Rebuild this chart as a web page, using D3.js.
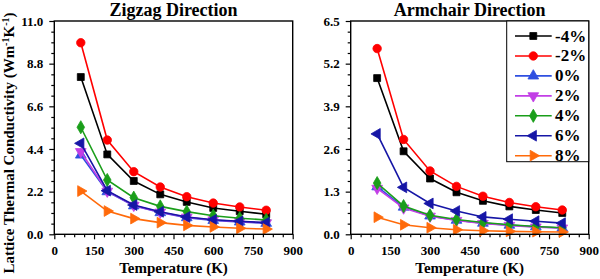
<!DOCTYPE html>
<html>
<head>
<meta charset="utf-8">
<script src="https://cdn.jsdelivr.net/npm/d3@7"></script>
<style>
  body { margin: 0; background: #fff; }
  svg text { font-family: "Liberation Serif", "Times New Roman", Times, serif; font-weight: bold; fill: #000; }
</style>
</head>
<body>
<svg id="chart" width="600" height="279" font-family="Liberation Serif" font-weight="bold"></svg>
<script>
// temperatures (K)
const temps = [100, 200, 300, 400, 500, 600, 700, 800]
const strains = ['-4%', '-2%', '0%', '2%', '4%', '6%', '8%']

// zigzag direction, lattice thermal conductivity
const zzM4 = [8.11, 4.12, 2.75, 2.06, 1.67, 1.36, 1.19, 1.03]
const zzM2 = [9.88, 4.86, 3.23, 2.44, 1.94, 1.61, 1.41, 1.24]
const zz0 = [4.09, 2.20, 1.47, 1.12, 0.86, 0.72, 0.64, 0.57]
const zz2 = [4.26, 2.22, 1.49, 1.14, 0.88, 0.74, 0.66, 0.59]
const zz4 = [5.52, 2.80, 1.89, 1.44, 1.17, 0.96, 0.83, 0.74]
const zz6 = [4.69, 2.25, 1.51, 1.16, 0.89, 0.75, 0.67, 0.60]
const zz8 = [2.23, 1.20, 0.81, 0.60, 0.46, 0.38, 0.31, 0.27]

// armchair direction
const acM4 = [4.76, 2.53, 1.70, 1.28, 1.02, 0.85, 0.74, 0.65]
const acM2 = [5.66, 2.89, 1.93, 1.46, 1.16, 0.97, 0.84, 0.74]
const ac0 = [1.45, 0.83, 0.56, 0.43, 0.34, 0.28, 0.23, 0.19]
const ac2 = [1.40, 0.80, 0.55, 0.42, 0.33, 0.27, 0.22, 0.19]
const ac4 = [1.56, 0.86, 0.58, 0.45, 0.36, 0.29, 0.24, 0.20]
const ac6 = [3.06, 1.43, 0.94, 0.71, 0.53, 0.46, 0.40, 0.34]
const ac8 = [0.52, 0.29, 0.20, 0.14, 0.11, 0.09, 0.08, 0.07]

const xTicks = [0, 150, 300, 450, 600, 750, 900]
const zzTicks = [0, 2.2, 4.4, 6.6, 8.8, 11.0]
const acTicks = [0, 1.3, 2.6, 3.9, 5.2, 6.5]

const colors = ['#000000', '#ff0000', '#2f4fe0', '#c23ee6', '#1a9e1a', '#1616a6', '#ff6a0a']
// symbol type + rotation for each strain
const markers = [
  { type: d3.symbolSquare, size: 48, rot: 0 },
  { type: d3.symbolCircle, size: 56, rot: 0 },
  { type: d3.symbolTriangle, size: 50, rot: 0 },
  { type: d3.symbolTriangle, size: 50, rot: 180 },
  { type: d3.symbolDiamond, size: 50, rot: 0 },
  { type: d3.symbolTriangle, size: 50, rot: -90 },
  { type: d3.symbolTriangle, size: 50, rot: 90 }
]

const svg = d3.select('#chart')
const plotTop = 21, plotBottom = 234.3

function drawPanel(left, right, title, yTicks, series, withYLabel) {
  const x = d3.scaleLinear().domain([0, 900]).range([left, right])
  const y = d3.scaleLinear().domain([0, yTicks[yTicks.length - 1]]).range([plotBottom, plotTop])
  const step = yTicks[1] - yTicks[0]
  const g = svg.append('g')

  // minor ticks
  const xMinor = d3.range(0, 900.1, 37.5).filter(v => v % 150 !== 0)
  const yMinor = d3.range(0, yTicks[yTicks.length - 1] + 1e-6, step / 4)
    .filter(v => Math.abs(v / step - Math.round(v / step)) > 0.01)

  const xa = g.append('g').attr('transform', `translate(0,${plotBottom})`)
    .call(d3.axisBottom(x).tickValues(xTicks).tickFormat(d3.format('d')).tickSize(5).tickSizeOuter(0).tickPadding(6))
  const xm = g.append('g').attr('transform', `translate(0,${plotBottom})`)
    .call(d3.axisBottom(x).tickValues(xMinor).tickFormat('').tickSize(3).tickSizeOuter(0))
  const ya = g.append('g').attr('transform', `translate(${left},0)`)
    .call(d3.axisLeft(y).tickValues(yTicks).tickFormat(d3.format('.1f')).tickSize(5).tickSizeOuter(0).tickPadding(6))
  const ym = g.append('g').attr('transform', `translate(${left},0)`)
    .call(d3.axisLeft(y).tickValues(yMinor).tickFormat('').tickSize(3).tickSizeOuter(0))
  ;[xa, xm, ya, ym].forEach(a => {
    a.attr('font-family', 'Liberation Serif').attr('font-size', 13)
    a.select('.domain').remove()
    a.selectAll('line').attr('stroke', '#000').attr('stroke-width', 1.2)
  })

  // series
  const line = d3.line().x((d, i) => x(temps[i])).y(d => y(d))
  series.forEach((vals, k) => {
    g.append('path').datum(vals)
      .attr('d', line)
      .attr('fill', 'none')
      .attr('stroke', colors[k])
      .attr('stroke-width', 1.6)
    const m = markers[k]
    g.selectAll(null).data(vals).enter().append('path')
      .attr('d', d3.symbol().type(m.type).size(m.size))
      .attr('transform', (d, i) => `translate(${x(temps[i])},${y(d)}) rotate(${m.rot})`)
      .attr('fill', colors[k])
      .attr('stroke', colors[k])
      .attr('stroke-width', 0.8)
  })

  // frame
  g.append('rect')
    .attr('x', left).attr('y', plotTop)
    .attr('width', right - left).attr('height', plotBottom - plotTop)
    .attr('fill', 'none').attr('stroke', '#000').attr('stroke-width', 1.4)

  g.append('text')
    .attr('x', (left + right) / 2).attr('y', 16)
    .attr('text-anchor', 'middle').attr('font-size', 18)
    .text(title)
  g.append('text')
    .attr('x', (left + right) / 2).attr('y', 273)
    .attr('text-anchor', 'middle').attr('font-size', 15)
    .text('Temperature (K)')

  if (withYLabel) {
    const t = g.append('text')
      .attr('transform', 'translate(14,143) rotate(-90)')
      .attr('text-anchor', 'middle').attr('font-size', 15)
    t.append('tspan').text('Lattice Thermal Conductivity (Wm')
    t.append('tspan').attr('font-size', 10).attr('dy', -5).text('-1')
    t.append('tspan').attr('dy', 5).text('K')
    t.append('tspan').attr('font-size', 10).attr('dy', -5).text('-1')
    t.append('tspan').attr('dy', 5).text(')')
  }
  return { x, y, g }
}

drawPanel(54.3, 292.7, 'Zigzag Direction', zzTicks, [zzM4, zzM2, zz0, zz2, zz4, zz6, zz8], true)
drawPanel(350.7, 588.7, 'Armchair Direction', acTicks, [acM4, acM2, ac0, ac2, ac4, ac6, ac8], false)

// legend
const lg = svg.append('g')
lg.append('rect')
  .attr('x', 506.7).attr('y', plotTop).attr('width', 588.7 - 506.7).attr('height', 161.7 - plotTop)
  .attr('fill', '#fff').attr('stroke', '#000').attr('stroke-width', 1)
const rowY = d3.scaleLinear().domain([0, 6]).range([36, 155.7])
strains.forEach((s, k) => {
  const yy = rowY(k)
  lg.append('line').attr('x1', 515).attr('x2', 551.7).attr('y1', yy).attr('y2', yy)
    .attr('stroke', colors[k]).attr('stroke-width', 1.6)
  const m = markers[k]
  lg.append('path')
    .attr('d', d3.symbol().type(m.type).size(m.size))
    .attr('transform', `translate(533.3,${yy}) rotate(${m.rot})`)
    .attr('fill', colors[k]).attr('stroke', colors[k]).attr('stroke-width', 0.8)
  lg.append('text').attr('x', 555).attr('y', yy + 5.5).attr('font-size', 17).text(s)
})
</script>
</body>
</html>
